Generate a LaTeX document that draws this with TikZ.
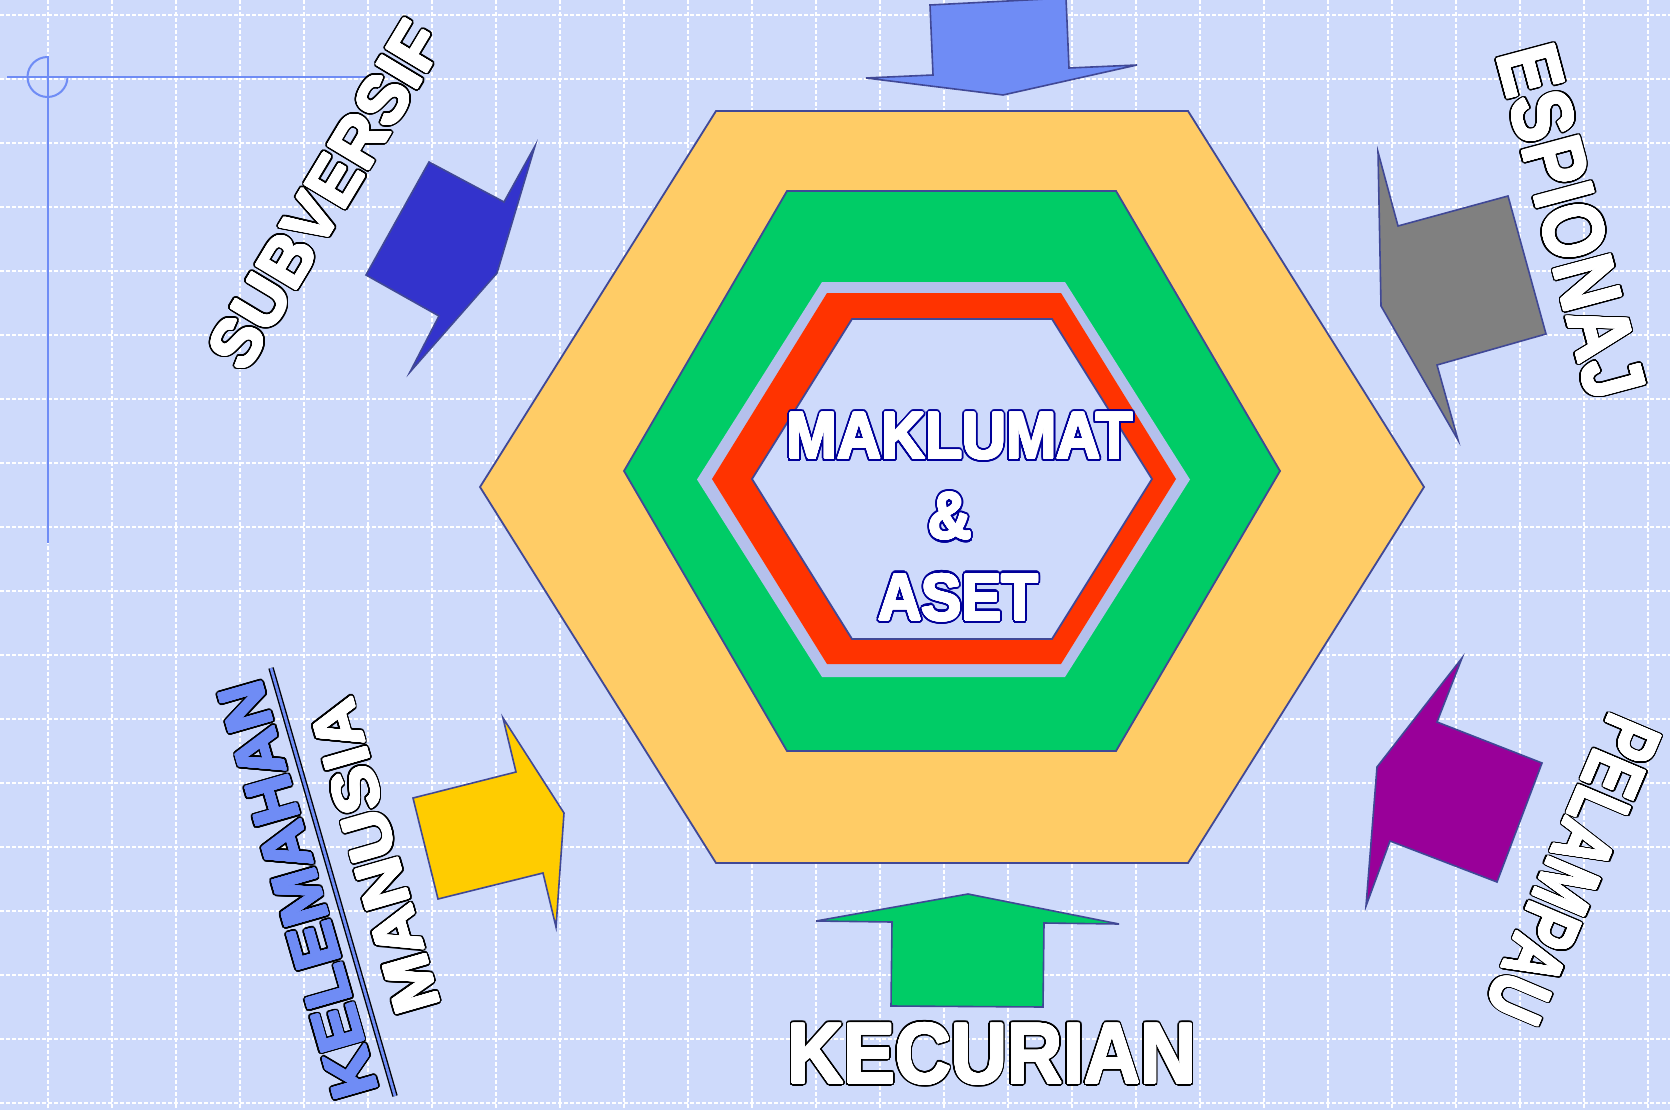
\documentclass[tikz,border=0pt]{standalone}
\usepackage{fontspec}
\setmainfont{Liberation Sans}
\usepackage{contour}
\usepackage{graphicx}
\contournumber{32}
\definecolor{bgc}{RGB}{206,218,251}
\definecolor{edgec}{RGB}{64,72,150}
\definecolor{orangehex}{RGB}{255,204,102}
\definecolor{greenhex}{RGB}{0,204,102}
\definecolor{lavhex}{RGB}{180,192,236}
\definecolor{redhex}{RGB}{255,51,0}
\definecolor{skyblue}{RGB}{111,140,245}
\definecolor{deepblue}{RGB}{51,51,204}
\definecolor{grayarrow}{RGB}{128,128,128}
\definecolor{purplearrow}{RGB}{153,0,153}
\definecolor{yellowarrow}{RGB}{255,204,0}
\definecolor{navyline}{RGB}{0,0,153}
\newcommand\fsz[1]{\fontsize{#1}{#1}\selectfont\bfseries}
% #1 outline colour, #2 outer contour length, #3 text
\newcommand\otext[3]{\rlap{\contourlength{#2}\contour{#1}{#3}}\contourlength{1pt}\contour{.}{#3}}
\begin{document}
\begin{tikzpicture}[x=1pt,y=-1pt,
  gridline/.style={white, line width=1.5pt, dash pattern=on 4pt off 2pt},
  hexshape/.style={draw=edgec, line width=1.8pt, line join=miter},
  arrowshape/.style={draw=edgec, line width=1.6pt, line join=miter},
  wordart/.style={inner sep=0pt, text=white},
  crossline/.style={draw=skyblue, line width=2pt}]
\useasboundingbox (0,0) rectangle (1670,1110);
\fill[bgc] (0,0) rectangle (1670,1110);
% grid
\foreach \k in {0,...,25} \draw[gridline] ({48+64*\k},0) -- ({48+64*\k},1110);
\foreach \k in {0,...,17} \draw[gridline] (0,{15+64*\k}) -- (1670,{15+64*\k});
% crosshair
\draw[crossline] (7,77) -- (372,77);
\draw[crossline] (47.5,56) -- (47.5,543);
\draw[crossline] (47.5,57) arc[start angle=-90, end angle=-360, radius=20];
% hexagons
\path[hexshape, fill=orangehex] (716,111) -- (1188,111) -- (1424,487) -- (1188,863) -- (716,863) -- (480,487) -- cycle;
\path[hexshape, fill=greenhex] (787,191) -- (1116,191) -- (1280,471) -- (1116,751) -- (787,751) -- (624,471) -- cycle;
\fill[lavhex] (822,282) -- (1065,282) -- (1190,479.5) -- (1065,677) -- (822,677) -- (697,479.5) -- cycle;
\fill[redhex] (827,293) -- (1061,293) -- (1176,479) -- (1061,664) -- (827,664) -- (712,479) -- cycle;
\path[hexshape, fill=bgc] (852,319) -- (1052,319) -- (1152,479) -- (1052,639) -- (852,639) -- (752,479) -- cycle;
% arrows
\path[arrowshape, fill=skyblue] (930,5) -- (933,75) -- (866,78) -- (1003,95) -- (1137,65) -- (1069,68) -- (1066,-2) -- cycle;
\path[arrowshape, fill=greenhex] (816,921) -- (892,922) -- (891,1006) -- (1043,1007) -- (1044,923) -- (1119,924) -- (968,894) -- cycle;
\path[arrowshape, fill=deepblue] (429,162) -- (504,202) -- (535,146) -- (497,273) -- (410,372) -- (439,316) -- (366,275) -- cycle;
\path[arrowshape, fill=grayarrow] (1378,152) -- (1398,226) -- (1508,196) -- (1546,334) -- (1437,365) -- (1458,440) -- (1381,306) -- cycle;
\path[arrowshape, fill=purplearrow] (1462,658) -- (1437,722) -- (1542,763) -- (1497,882) -- (1390,841) -- (1366,906) -- (1377,767) -- cycle;
\path[arrowshape, fill=yellowarrow] (503,718) -- (516,772) -- (413,798) -- (438,899) -- (543,873) -- (556,927) -- (564,813) -- cycle;
% underline of KELEMAHAN
\draw[black, line width=5.5pt] (271,668) -- (395,1096);
\draw[skyblue, line width=2.8pt] (271,668) -- (395,1096);
% texts
\node[wordart, font=\fsz{66}] (mak) at (960,438) {\scalebox{0.92}[1]{\otext{navyline}{3.2pt}{MAKLUMAT}}};
\node[wordart, font=\fsz{66}] (amp) at (950,518) {\scalebox{0.92}[1]{\otext{navyline}{3.2pt}{\&}}};
\node[wordart, font=\fsz{66}] (aset) at (958.5,599) {\scalebox{0.91}[1]{\otext{navyline}{3.2pt}{ASET}}};
\node[wordart, font=\fsz{86}] (kec) at (992,1055) {\scalebox{0.9}[1]{\otext{black}{2.8pt}{KECURIAN}}};
\node[wordart, font=\fsz{68}, rotate=59] (sub) at (327,196) {\otext{black}{2.8pt}{SUBVERSIF}};
\node[wordart, font=\fsz{85}, rotate=-75] (esp) at (1570,222) {\scalebox{0.84}[1]{\otext{black}{2.8pt}{ESPIONAJ}}};
\node[wordart, font=\fsz{81}, rotate=-113] (pel) at (1572,869) {\scalebox{0.72}[1]{\otext{black}{2.8pt}{PELAMPAU}}};
\node[wordart, text=skyblue, font=\fsz{64}, rotate=106] (kel) at (299.5,890) {\scalebox{1.05}[1]{\otext{black}{2.8pt}{KELEMAHAN}}};
\node[wordart, font=\fsz{64}, rotate=106] (man) at (376,856) {\scalebox{1.08}[1]{\otext{black}{2.8pt}{MANUSIA}}};
\end{tikzpicture}
\end{document}
